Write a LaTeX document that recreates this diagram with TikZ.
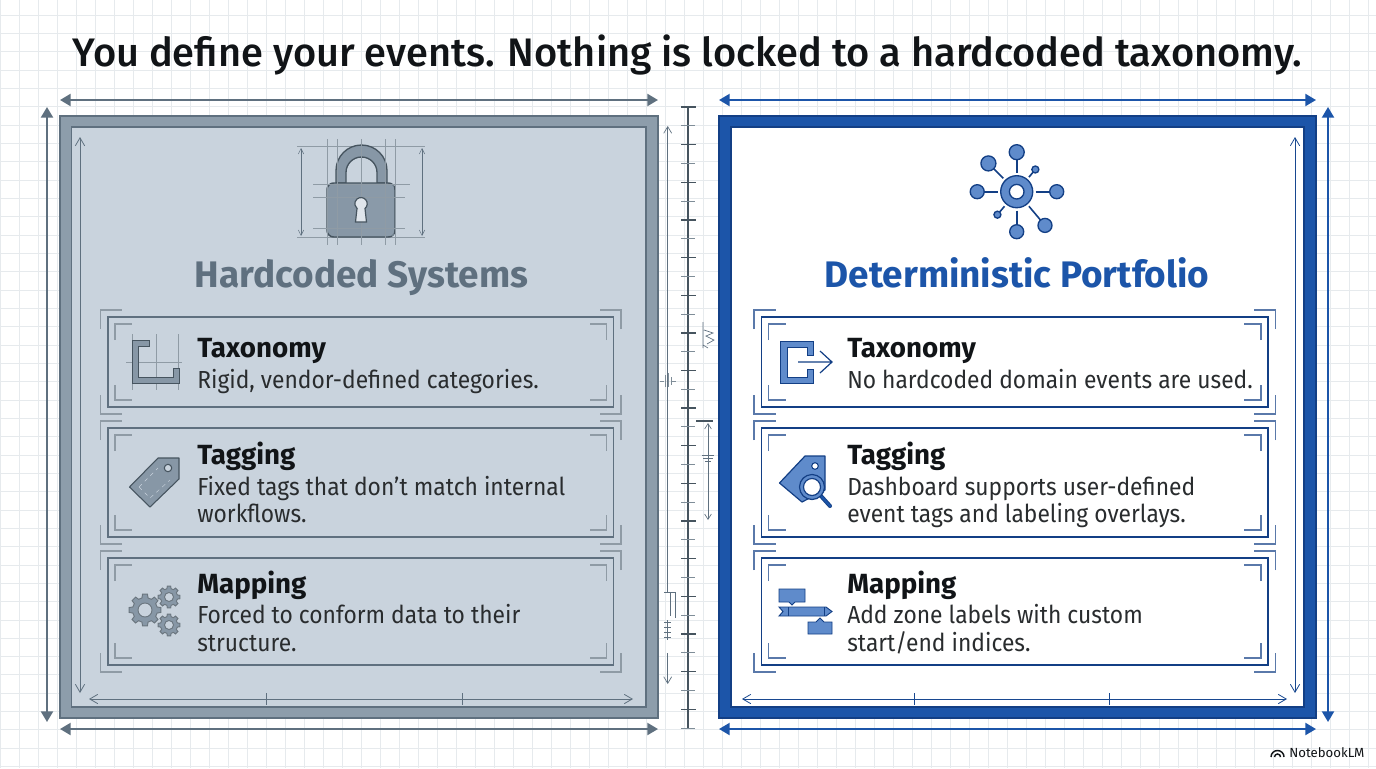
\documentclass[tikz,border=0pt]{standalone}
\usepackage{fontspec}
\setmainfont{Fira Sans}
\newfontfamily\titlefont{Fira Sans Medium}
\newfontfamily\bodyfont[FakeStretch=0.925]{Fira Sans}
\usetikzlibrary{arrows.meta,calc}
\definecolor{gridline}{HTML}{E6EAED}
\definecolor{steel}{HTML}{5F707F}
\definecolor{steelframe}{HTML}{8D9DAB}
\definecolor{steelfill}{HTML}{C9D3DD}
\definecolor{steelicon}{HTML}{8797A6}
\definecolor{steeldark}{HTML}{46545F}
\definecolor{royal}{HTML}{1C55A9}
\definecolor{royaldark}{HTML}{133F85}
\definecolor{royalicon}{HTML}{5F8BCB}
\definecolor{inktext}{HTML}{111417}
\tikzset{
  dimbig/.style={line width=1.6pt,{Triangle[length=8pt,width=9pt]}-{Triangle[length=8pt,width=9pt]}},
  dimsmall/.style={line width=0.6pt,{Straight Barb[length=6pt,width=7pt]}-{Straight Barb[length=6pt,width=7pt]}},
  dimfine/.style={line width=0.4pt,{Straight Barb[length=4pt,width=4pt]}-{Straight Barb[length=4pt,width=4pt]}},
  boxline/.style={line width=1.3pt},
  corner/.style={line width=0.8pt},
  headtext/.style={font=\fontsize{27.7}{30}\selectfont\bfseries,anchor=base},
  itemhead/.style={font=\fontsize{20.8}{24}\selectfont\bfseries,anchor=base west,inner sep=0pt,text=inktext},
  itemtext/.style={font=\fontsize{18.5}{22}\selectfont\bodyfont,anchor=base west,inner sep=0pt,text=inktext!90!white},
  construct/.style={line width=0.35pt,draw=steel!70},
}
% item frame with its two sets of corner marks
\newcommand{\itemframe}[5]{%
  \draw[boxline,#5] (#1,#2) rectangle (#3,#4);
  \draw[corner,#5!70!white] (#1-7.5,#2+12) -- (#1-7.5,#2-7) -- (#1+14,#2-7);
  \draw[corner,#5!70!white] (#3+7.5,#2+12) -- (#3+7.5,#2-7) -- (#3-14,#2-7);
  \draw[corner,#5!70!white] (#1-7.5,#4-12) -- (#1-7.5,#4+7) -- (#1+14,#4+7);
  \draw[corner,#5!70!white] (#3+7.5,#4-12) -- (#3+7.5,#4+7) -- (#3-14,#4+7);
  \draw[corner,#5!70!white] (#1+7,#2+23) -- (#1+7,#2+7) -- (#1+24,#2+7);
  \draw[corner,#5!70!white] (#3-7,#2+23) -- (#3-7,#2+7) -- (#3-24,#2+7);
  \draw[corner,#5!70!white] (#1+7,#4-22) -- (#1+7,#4-7) -- (#1+24,#4-7);
  \draw[corner,#5!70!white] (#3-7,#4-22) -- (#3-7,#4-7) -- (#3-24,#4-7);
}
% toothed wheel: centre x, centre y, outer radius, hole radius
\newcommand{\gearwheel}[4]{%
  \fill[steelicon,draw=steeldark!80,line width=0.7pt,even odd rule]
    ($(#1,#2)+(-14:#3*0.78)$)
    \foreach \a in {0,45,...,315}{
      -- ($(#1,#2)+(\a-14:#3*0.78)$) -- ($(#1,#2)+(\a-9:#3)$) -- ($(#1,#2)+(\a+9:#3)$) -- ($(#1,#2)+(\a+14:#3*0.78)$)
    } -- cycle (#1,#2) circle[radius=#4];
}
\begin{document}
\begin{tikzpicture}[x=0.75pt,y=0.75pt,yscale=-1,xscale=1]
\useasboundingbox (0,0) rectangle (1376,768);
\fill[white] (0,0) rectangle (1376,768);

%Background grid
\foreach \gx in {0.5,19.5,...,1376} \draw[gridline,line width=0.6pt] (\gx,0) -- (\gx,768);
\foreach \gy in {15,33.33,...,768} \draw[gridline,line width=0.6pt] (0,\gy) -- (1376,\gy);

% Text Node
\node[font=\fontsize{29.85}{34}\selectfont\titlefont,anchor=base,inner sep=0pt,text=inktext] (title) at (687.5,66) {You define your events. Nothing is locked to a hardcoded taxonomy.};

%Left panel
\draw[steel,line width=1pt,fill=steelframe] (60,116) rectangle (658,718);
\draw[steel,line width=1.2pt,fill=steelfill] (71.5,127) rectangle (646,707);

%Right panel
\draw[royaldark,line width=1pt,fill=royal] (719,116) rectangle (1316,718);
\draw[royaldark,line width=1.2pt,fill=white] (731,127) rectangle (1304,707);

%Straight Lines
\coordinate (lt1) at (60,100); \coordinate (lt2) at (658,100);
\coordinate (lb1) at (60,729); \coordinate (lb2) at (658,729);
\coordinate (ls1) at (47,107); \coordinate (ls2) at (47,722);
\draw[dimbig,steel] (lt1) -- (lt2);
\draw[dimbig,steel] (lb1) -- (lb2);
\draw[dimbig,steel] (ls1) -- (ls2);
\coordinate (rt1) at (719,100); \coordinate (rt2) at (1316,100);
\coordinate (rb1) at (719,729); \coordinate (rb2) at (1316,729);
\coordinate (rs1) at (1328,107); \coordinate (rs2) at (1328,722);
\draw[dimbig,royal] (rt1) -- (rt2);
\draw[dimbig,royal] (rb1) -- (rb2);
\draw[dimbig,royal] (rs1) -- (rs2);

%Inner measure lines
\coordinate (li1) at (80,137); \coordinate (li2) at (80,693);
\coordinate (lj1) at (89,699); \coordinate (lj2) at (633,699);
\draw[dimsmall,steel] (li1) -- (li2);
\draw[dimsmall,steel] (lj1) -- (lj2);
\draw[steel,line width=0.6pt] (266,693) -- (266,705) (462,693) -- (462,705);
\coordinate (ri1) at (1295,137); \coordinate (ri2) at (1295,693);
\coordinate (rj1) at (742,699); \coordinate (rj2) at (1287,699);
\draw[dimsmall,royal!85!black] (ri1) -- (ri2);
\draw[dimsmall,royal!85!black] (rj1) -- (rj2);
\draw[royal!85!black,line width=0.6pt] (914,693) -- (914,705) (1109,693) -- (1109,705);

%Centre ruler
\draw[steeldark,line width=1.2pt] (688,107) -- (688,728);
\foreach \i in {0,...,33}{
  \pgfmathtruncatemacro{\odd}{mod(\i,2)}
  \ifnum\odd=0
    \draw[steeldark,line width=1pt] (681,107+18.82*\i) -- (696,107+18.82*\i);
  \else
    \draw[steel!80,line width=0.7pt] (681,107+18.82*\i) -- (695,107+18.82*\i);
  \fi
}
\draw[steeldark,line width=0.8pt] (696,421) -- (713,421);
\coordinate (ma0) at (708,456); \coordinate (ma1) at (708,423); \coordinate (ma2) at (708,520);
\draw[steel,line width=0.5pt,-{Straight Barb[length=4pt,width=5pt]}] (ma0) -- (ma2);
\draw[steel,line width=0.5pt,-{Straight Barb[length=4pt,width=5pt]}] (ma0) -- (ma1);
\draw[steel,line width=0.5pt] (702,455) -- (714,455) (703,458) -- (713,458) (705,461) -- (711,461);
\draw[steel,line width=0.5pt] (703,322) -- (703,348) (703,345) -- (708,348) (704,330) -- (713,333) -- (706,336) -- (714,340) -- (707,344);

\coordinate (me1) at (667.7,126); \coordinate (me2) at (667.7,592);
\coordinate (me3) at (667.7,653); \coordinate (me4) at (667.7,684);
\draw[steel,line width=0.5pt,-{Straight Barb[length=5pt,width=6pt]}] (me2) -- (me1);
\draw[steel,line width=0.5pt,-{Straight Barb[length=5pt,width=6pt]}] (me3) -- (me4);
\draw[steel!80,line width=0.4pt] (660,381) -- (664,381) (665,375) -- (665,387) (668,373) -- (668,387) (671,377) -- (671,385) (672,381) -- (676,381);
\draw[steel,line width=0.5pt] (664,592) -- (675,592) (670,592) -- (670,616) (675,592) -- (675,618);
\draw[steel,line width=0.6pt] (664,622) -- (671,622) (664,627) -- (671,627) (664,632) -- (671,632) (664,637) -- (671,637) (667,620) -- (667,640);

%Lock icon
\draw[construct] (297,146) -- (425,146) (297,237) -- (425,237);
\draw[steeldark,line width=1pt,fill=steelicon]
  (336,183) -- (336,170.5) arc[start angle=180,end angle=360,radius=25.5] -- (387,183) -- (377,183) -- (377,172.5)
  arc[start angle=360,end angle=180,radius=15.5] -- (346,183) -- cycle;
\draw[steeldark,line width=1.1pt,fill=steelicon,rounded corners=5pt] (327,183) rectangle (395,237);
\fill[steelframe,opacity=0.6] (361,184) rectangle (394,236);
\draw[construct] (327,139) -- (327,245) (337,139) -- (337,245) (361,139) -- (361,245) (385,139) -- (385,245) (395,139) -- (395,245);
\draw[construct] (313,184) -- (410,184) (313,197) -- (405,197) (313,228) -- (405,228);
\draw[steeldark,line width=0.9pt,fill=steelfill!60!white]
  (357,208.5) -- (355.5,222) -- (366.5,222) -- (365,208.5)
  arc[start angle=50,end angle=-230,radius=6.2] -- cycle;
\coordinate (lk1) at (301,148); \coordinate (lk2) at (301,236);
\coordinate (lk3) at (422,148); \coordinate (lk4) at (422,236);
\draw[dimfine,steel] (lk1) -- (lk2);
\draw[dimfine,steel] (lk3) -- (lk4);

%Network icon
\coordinate (hub) at (1016.7,191.7);
\foreach \ang/\rad/\sz in {90/39.5/7.5,135/40/7.5,0/40/7,180/39.5/7,-50/44/7,-90/40/7,50/29/3.5,-130/30/3.5}{
  \draw[royaldark,line width=1.2pt] (hub) ++(-\ang:19) -- ++(-\ang:\rad-19-\sz);
  \draw[royaldark,line width=1pt,fill=royalicon] (hub) ++(-\ang:\rad) circle[radius=\sz];
}
\draw[royaldark,line width=1pt,fill=royalicon,even odd rule] (hub) circle[radius=16] circle[radius=7.3];

% Text Node
\node[headtext,text=steel] (headleft) at (361.5,287) {Hardcoded Systems};
\node[headtext,text=royal] (headright) at (1017,287) {Deterministic Portfolio};

%Item frames
\itemframe{108}{317}{613.5}{407}{steel}
\itemframe{108}{428}{613.5}{537}{steel}
\itemframe{108}{558}{613.5}{665}{steel}
\itemframe{761.5}{317}{1268}{407}{royaldark}
\itemframe{761.5}{428}{1268}{537}{royaldark}
\itemframe{761.5}{558}{1268}{665}{royaldark}

%Taxonomy icon left
\draw[construct] (156,334) -- (156,390) (132,334) -- (132,390) (178,334) -- (178,390) (126,362) -- (182,362);
\draw[steeldark,line width=0.7pt,fill=steelicon] (132,340) -- (149,340) -- (149,346) -- (138,346) -- (138,377) -- (173,377) -- (173,368) -- (179,368) -- (179,383) -- (132,383) -- cycle;

%Tag icon left
\draw[steeldark,line width=0.8pt,fill=steelicon,line join=round] (129.5,487) -- (158,458) -- (179,458) -- (179,479) -- (150,507) -- cycle;
\draw[steeldark,line width=0.8pt,fill=steelfill] (168,468) circle[radius=3.7];
\draw[steelfill,line width=0.3pt,dashed] (139,487) -- (158,468) (139,487) -- (150,498) -- (170,480);

%Gear icon left
\gearwheel{145}{610}{16}{7}
\gearwheel{169}{597}{11}{4.5}
\gearwheel{169}{625}{11}{4.5}

%Taxonomy icon right
\draw[royaldark,line width=0.7pt,fill=royalicon] (780,341) -- (813,341) -- (813,355) -- (807,355) -- (807,347) -- (787,347) -- (787,377) -- (807,377) -- (807,369) -- (813,369) -- (813,383) -- (780,383) -- cycle;
\coordinate (ex1) at (798,362); \coordinate (ex2) at (832,362);
\draw[royaldark,line width=0.9pt] (ex1) -- (ex2) (820,351) -- (ex2) -- (820,373);

%Tag icon right
\draw[royaldark,line width=0.9pt,fill=royalicon,line join=round] (779.5,483) -- (805,456) -- (825,456) -- (825,490) -- (802,502) -- cycle;
\draw[royaldark,line width=0.8pt,fill=white] (815,466) circle[radius=3.3];
\draw[royaldark,line width=3pt,line cap=round] (821,496) -- (830,506);
\draw[royal,line width=1.6pt,line cap=round] (821,496) -- (830,506);
\draw[royaldark,line width=0.9pt,fill=royalicon] (812,487) circle[radius=12.5];
\draw[royaldark,line width=0.9pt,fill=white] (812,487) circle[radius=8.5];

%Mapping icon right
\draw[royaldark,line width=0.7pt,fill=royalicon] (779,589) -- (805,589) -- (805,602) -- (795,602) -- (792,605) -- (789,602) -- (779,602) -- cycle;
\draw[royaldark,line width=0.7pt,fill=royalicon] (779,607) -- (826,607) -- (832,611.5) -- (826,616) -- (779,616) -- (783,611.5) -- cycle;
\draw[royaldark,line width=0.5pt] (788,607) -- (788,616) (824,607) -- (824,616);
\draw[royaldark,line width=0.7pt,fill=royalicon] (808,622) -- (816,622) -- (820,618) -- (824,622) -- (832,622) -- (832,634) -- (808,634) -- cycle;

% Text Node
\node[itemhead] (lhtax) at (197,357) {Taxonomy};
\node[itemtext] (ltxtax) at (197,388) {Rigid, vendor-defined categories.};
\node[itemhead] (lhtag) at (197,464) {Tagging};
\node[itemtext] (ltxtag1) at (197,495) {Fixed tags that don’t match internal};
\node[itemtext] (ltxtag2) at (197,522) {workflows.};
\node[itemhead] (lhmap) at (197,593) {Mapping};
\node[itemtext] (ltxmap1) at (197,623) {Forced to conform data to their};
\node[itemtext] (ltxmap2) at (197,651) {structure.};
\node[itemhead] (rhtax) at (847,357) {Taxonomy};
\node[itemtext] (rtxtax) at (847,388) {No hardcoded domain events are used.};
\node[itemhead] (rhtag) at (847,464) {Tagging};
\node[itemtext] (rtxtag1) at (847,495) {Dashboard supports user-defined};
\node[itemtext] (rtxtag2) at (847,522) {event tags and labeling overlays.};
\node[itemhead] (rhmap) at (847,593) {Mapping};
\node[itemtext] (rtxmap1) at (847,623) {Add zone labels with custom};
\node[itemtext] (rtxmap2) at (847,651) {start/end indices.};

%Logo
\draw[inktext,line width=1.1pt] (1271,757) arc[start angle=180,end angle=360,radius=6.5] (1274.5,757) arc[start angle=180,end angle=360,radius=3];
\node[font=\fontsize{9.9}{11}\selectfont,anchor=base west,inner sep=0pt,text=inktext] (logo) at (1289,757) {NotebookLM};
\end{tikzpicture}
\end{document}
